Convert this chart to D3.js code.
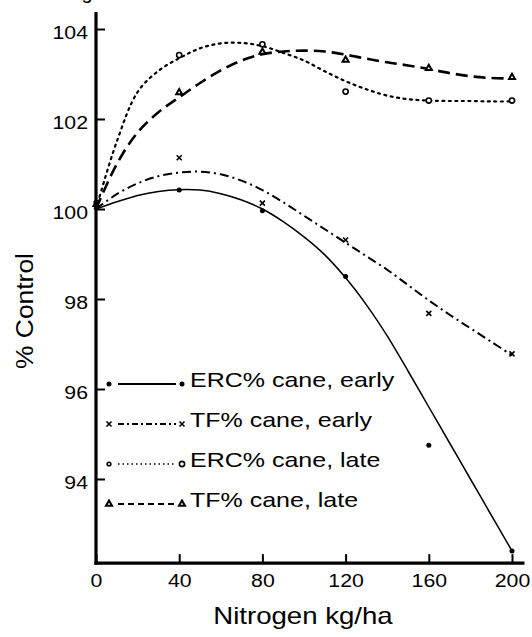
<!DOCTYPE html>
<html><head><meta charset="utf-8">
<script src="https://cdn.jsdelivr.net/npm/d3@7"></script>
<style>body{margin:0;background:#fff}svg{display:block}</style>
</head><body>
<svg id="c" width="532" height="637"></svg>
<script>
// ---- observed points ----
const nitrogen = [0, 40, 80, 120, 160, 200];
const ercEarly = [100.0, 100.42, 99.96, 98.50, 94.75, 92.40];
const tfEarly  = [100.05, 101.14, 100.13, 99.31, 97.68, 96.78];
const ercLate  = [100.15, 103.42, 103.66, 102.61, 102.41, 102.41];
const tfLate   = [100.1, 102.59, 103.49, 103.31, 103.13, 102.93];

// ---- fitted curves ----
const fitN = [0,10,20,30,40,50,60,70,80,90,100,110,120,130,140,150,160,170,180,190,200];
const ercEarlyFit = [100,100.16,100.3,100.39,100.43,100.42,100.34,100.2,100.0,99.72,99.38,98.98,98.47,97.87,97.18,96.4,95.6,94.8,94.0,93.2,92.4];
const tfEarlyFit  = [100,100.33,100.57,100.73,100.81,100.83,100.77,100.63,100.42,100.15,99.85,99.55,99.25,98.95,98.65,98.31,97.97,97.65,97.35,97.05,96.75];
const ercLateFit  = [100,101.5,102.6,103.07,103.35,103.57,103.68,103.69,103.62,103.47,103.3,103.06,102.84,102.66,102.52,102.44,102.41,102.40,102.40,102.39,102.39];
const tfLateFit   = [100,101.0,101.7,102.15,102.48,102.8,103.08,103.3,103.44,103.5,103.52,103.5,103.43,103.34,103.26,103.19,103.11,103.02,102.95,102.91,102.9];

// ---- axes ----
const xTicks = [0, 40, 80, 120, 160, 200];
const yTicks = [94, 96, 98, 100, 102, 104];
const xAxisMax = 206;
const yAxisMin = 92.13, yAxisMax = 104.38;
const xTitle = "Nitrogen kg/ha";
const yTitle = "% Control";
const legendLabels = ["ERC% cane, early", "TF% cane, early", "ERC% cane, late", "TF% cane, late"];

const FONT = "'Liberation Sans', Arial, Helvetica, sans-serif";
const svg = d3.select("#c");
const x = d3.scaleLinear().domain([0, 200]).range([96, 512]);
const y = d3.scaleLinear().domain([92, 104]).range([569, 29]);

function stretch(sel, sx, ox, oy) {
  sel.attr("transform", `translate(${ox},${oy}) scale(${sx},1) translate(${-ox},${-oy})`);
}

const series = [
  {name: legendLabels[0], pts: ercEarly, fit: ercEarlyFit, dash: null, width: 1.5, sym: "dot", ldash: null},
  {name: legendLabels[1], pts: tfEarly, fit: tfEarlyFit, dash: "9,4,2,4", width: 2, sym: "x", ldash: "6,3,2,3"},
  {name: legendLabels[2], pts: ercLate, fit: ercLateFit, dash: "2,4.5", width: 2.2, sym: "circle", ldash: "1.5,3"},
  {name: legendLabels[3], pts: tfLate, fit: tfLateFit, dash: "12,6", width: 2.6, sym: "tri", ldash: "6,4"}
];

function drawSym(g, type, cx, cy, small) {
  const k = small ? 0.7 : 1;
  if (type === "dot") {
    g.append("circle").attr("cx", cx).attr("cy", cy).attr("r", 2.5 * k).attr("fill", "#000");
  } else if (type === "circle") {
    g.append("circle").attr("cx", cx).attr("cy", cy).attr("r", 2.6 * k)
      .attr("fill", "#fff").attr("stroke", "#000").attr("stroke-width", 1.6);
  } else if (type === "x") {
    g.append("path").attr("d", d3.symbol(d3.symbolTimes, 18 * k)())
      .attr("transform", `translate(${cx},${cy})`).attr("stroke", "#000").attr("stroke-width", 1.6).attr("fill", "none");
  } else if (type === "tri") {
    g.append("path").attr("d", d3.symbol(d3.symbolTriangle2, 26 * k)())
      .attr("transform", `translate(${cx},${cy})`).attr("stroke", "#000").attr("stroke-width", 2).attr("fill", "#fff");
  }
}

// lines
const line = d3.line().x(d => x(d[0])).y(d => y(d[1])).curve(d3.curveCatmullRom.alpha(0.5));
series.forEach(s => {
  svg.append("path").datum(fitN.map((n, i) => [n, s.fit[i]]))
    .attr("d", line).attr("fill", "none").attr("stroke", "#000")
    .attr("stroke-width", s.width).attr("stroke-dasharray", s.dash)
    .attr("stroke-linecap", s.sym === "circle" ? "round" : "butt");
});
// markers
series.forEach(s => {
  const g = svg.append("g");
  nitrogen.forEach((n, i) => drawSym(g, s.sym, x(n), y(s.pts[i]), i === 0));
});

// axes
const yAxis = d3.axisLeft(y).tickValues(yTicks).tickSizeInner(-9).tickSizeOuter(0).tickPadding(8).tickFormat(d3.format("d"));
const gy = svg.append("g").attr("transform", `translate(${x(0)},0)`).call(yAxis);
gy.select(".domain").remove();
gy.selectAll(".tick line").attr("stroke-width", 2);
gy.selectAll(".tick text").attr("font-family", FONT).attr("font-size", 19).attr("dy", "0.5em").attr("fill", "#000")
  .each(function() { stretch(d3.select(this), 1.12, -8, 0); });

const xAxis = d3.axisBottom(x).tickValues(xTicks).tickSizeInner(-9).tickSizeOuter(0).tickPadding(10).tickFormat(d3.format("d"));
const gx = svg.append("g").attr("transform", `translate(0,${y(yAxisMin)})`).call(xAxis);
gx.select(".domain").remove();
gx.selectAll(".tick line").attr("stroke-width", 2);
gx.selectAll(".tick text").attr("font-family", FONT).attr("font-size", 19).attr("fill", "#000")
  .each(function() { stretch(d3.select(this), 1.12, 0, 0); });

svg.append("line").attr("x1", x(0)).attr("x2", x(0)).attr("y1", y(yAxisMax)).attr("y2", y(yAxisMin) + 1.5)
  .attr("stroke", "#000").attr("stroke-width", 3.2);
svg.append("line").attr("x1", x(0) - 1.5).attr("x2", x(xAxisMax)).attr("y1", y(yAxisMin)).attr("y2", y(yAxisMin))
  .attr("stroke", "#000").attr("stroke-width", 3.4);

// titles
const xt = svg.append("text").attr("x", 303).attr("y", 624).attr("text-anchor", "middle")
  .attr("font-family", FONT).attr("font-size", 23).text(xTitle);
stretch(xt, 1.2, 303, 624);
const yt = svg.append("text").attr("transform", "translate(33,311) rotate(-90) scale(1.1,1)").attr("text-anchor", "middle")
  .attr("font-family", FONT).attr("font-size", 24).text(yTitle);
// clipped fragment of title above the plot (only its descender is visible in the reference)
svg.append("text").attr("x", 87).attr("y", -1).attr("text-anchor", "middle")
  .attr("font-family", FONT).attr("font-size", 20).text("g");

// legend
const lg = svg.append("g");
series.forEach((s, i) => {
  const by = 387 + i * 40;
  const sy = by - 3;
  drawSym(lg, s.sym, 109, sy, s.sym === "circle");
  lg.append("line").attr("x1", 118).attr("x2", 176).attr("y1", sy).attr("y2", sy)
    .attr("stroke", "#000").attr("stroke-width", s.sym === "circle" ? 1.4 : 1.8)
    .attr("stroke-dasharray", s.ldash);
  drawSym(lg, s.sym, 182, sy, false);
  const t = lg.append("text").attr("x", 190).attr("y", by).attr("font-family", FONT).attr("font-size", 20.5).text(s.name);
  stretch(t, 1.22, 190, by);
});
</script>
</body></html>
